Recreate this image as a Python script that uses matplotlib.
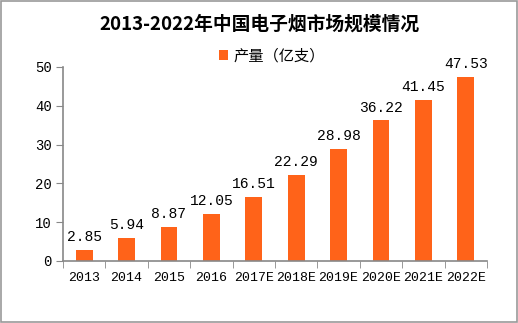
import matplotlib
matplotlib.use("Agg")
import matplotlib.pyplot as plt
from matplotlib.patches import Rectangle

categories = ["2013", "2014", "2015", "2016", "2017E", "2018E", "2019E", "2020E", "2021E", "2022E"]
values = [2.85, 5.94, 8.87, 12.05, 16.51, 22.29, 28.98, 36.22, 41.45, 47.53]
yticks = [0, 10, 20, 30, 40, 50]
series_name = "产量（亿支）"
title = "2013-2022年中国电子烟市场规模情况"

plt.rcParams['font.family'] = ['Noto Sans CJK SC', 'DejaVu Sans']
color = "#FF6319"
mono = ['Liberation Mono', 'DejaVu Sans Mono']

fig = plt.figure(figsize=(5.18, 3.23), dpi=100)
ax = fig.add_axes([63/518, 1-261/323, (487-63)/518, (261-67)/323])
x = list(range(len(categories)))
bars = ax.bar(x, values, width=0.4, color=color, label=series_name, zorder=2)
for xi, v in zip(x, values):
    ax.text(xi, v + 1.5, f"{v:.2f}", ha="center", va="bottom", fontsize=10.5, family=mono)

ax.set_xlim(-0.5, len(categories) - 0.5)
ax.set_ylim(0, 50)
ax.set_yticks(yticks)
ax.set_yticklabels([str(t) for t in yticks], fontsize=10, family=mono)
ax.set_xticks(x)
ax.set_xticklabels(categories, fontsize=9.5, family=mono)
ax.tick_params(axis='x', length=0, pad=8)
ax.set_xticks([i - 0.5 for i in range(len(categories) + 1)], minor=True)
ax.tick_params(axis='x', which='minor', length=5, color="#888888", direction='out')
ax.tick_params(axis='y', length=5, color="#888888", direction='out', pad=3)
for s in ['top', 'right']:
    ax.spines[s].set_visible(False)
for s in ['left', 'bottom']:
    ax.spines[s].set_color("#888888")
    ax.spines[s].set_linewidth(1.2)

fig.text(0.5, 1 - 24/323, title, ha="center", va="center", fontsize=13.5, fontweight="bold")
leg = fig.legend(handles=[bars], labels=[series_name], loc="center", bbox_to_anchor=(0.525, 1 - 56/323),
                 frameon=False, fontsize=11, handlelength=0.6, handleheight=0.6, handletextpad=0.3)

fig.add_artist(Rectangle((0.001, 0.002), 0.997, 0.996, transform=fig.transFigure,
                         fill=False, edgecolor="#999999", linewidth=1.2))
fig.savefig("out.png", dpi=100)
